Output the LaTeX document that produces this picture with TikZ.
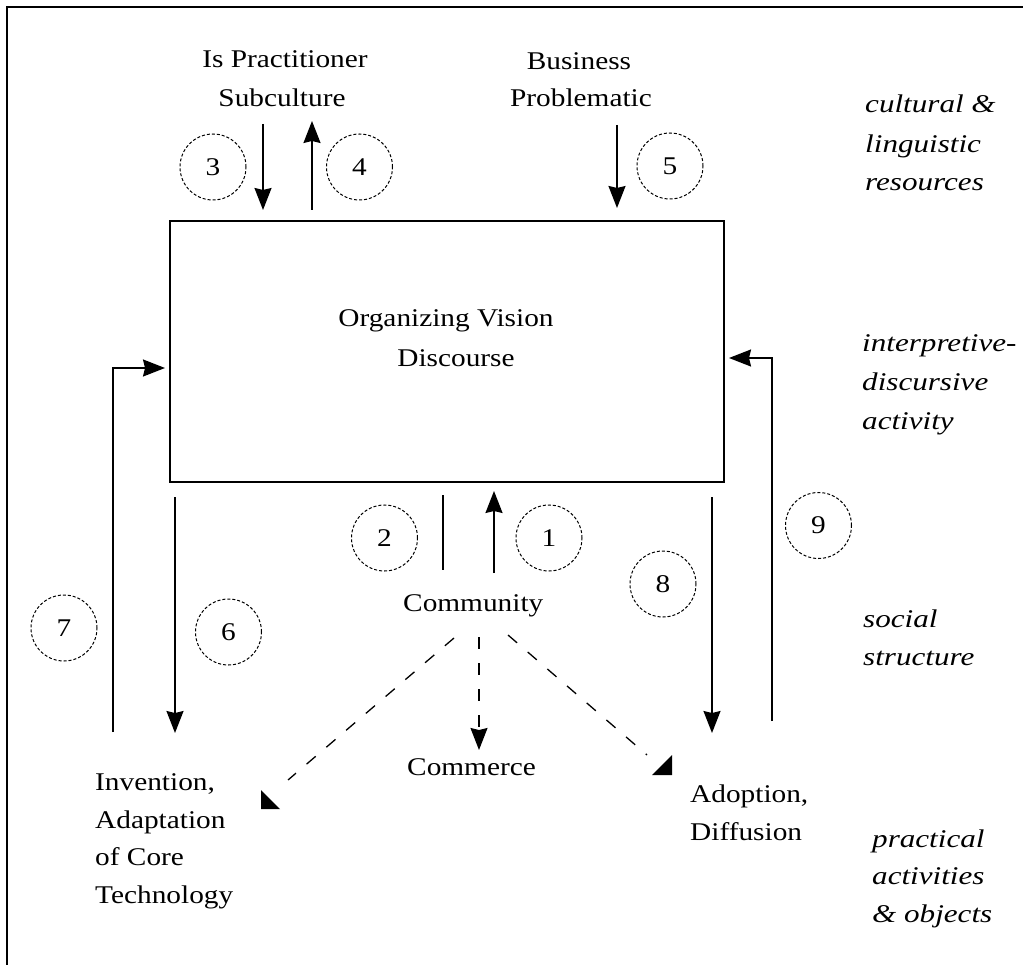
\documentclass[tikz,border=0pt]{standalone}
\usepackage{fontspec}
\setmainfont{Liberation Serif}[FakeStretch=1.15, ItalicFeatures={FakeStretch=1.22}]
\usetikzlibrary{arrows.meta}
\begin{document}
\begin{tikzpicture}[x=1pt,y=-1pt,
  lbl/.style={inner sep=0pt, anchor=base, font=\fontsize{25.5}{30}\selectfont},
  lblw/.style={inner sep=0pt, anchor=base west, font=\fontsize{25.5}{30}\selectfont},
  lvl/.style={inner sep=0pt, anchor=base west, font=\fontsize{25.5}{30}\selectfont\itshape},
  num/.style={circle, draw, dash pattern=on 3pt off 2pt, line width=1pt,
    minimum size=66pt, inner sep=0pt, font=\fontsize{25.5}{30}\selectfont},
  flow/.style={line width=1.7pt, -{Stealth[length=22pt,width=17pt,inset=2pt]}},
  bare/.style={line width=1.7pt},
  link/.style={line width=1.3pt, dash pattern=on 12pt off 14pt},
  linkhead/.style={line width=1.3pt, dash pattern=on 12pt off 14pt,
    -{Stealth[length=22pt,width=17pt,inset=2pt]}},
]
\useasboundingbox (0,0) rectangle (1023,965);
\fill[white] (0,0) rectangle (1023,965);
% frame (top and left edges)
\draw[line width=1.5pt] (7,965) -- (7,7) -- (1023,7);

% central box
\node[draw, line width=1.8pt, minimum width=554pt, minimum height=261pt,
  inner sep=0pt] (ov) at (447,351.5) {};
\node[lbl] (ovA) at (446,327) {Organizing Vision};
\node[lbl] (ovB) at (456,367) {Discourse};

% top sources
\node[lbl] (ipA) at (285,68) {Is Practitioner};
\node[lbl] (ipB) at (282,107) {Subculture};
\node[lbl] (bpA) at (579,70) {Business};
\node[lbl] (bpB) at (581,107) {Problematic};

% lower items
\node[lblw] (com) at (403,611) {Community};
\node[lblw] (cmr) at (407,775) {Commerce};
\node[lblw] (invA) at (95,790) {Invention,};
\node[lblw] (invB) at (95,828) {Adaptation};
\node[lblw] (invC) at (95,865) {of Core};
\node[lblw] (invD) at (95,903) {Technology};
\node[lblw] (adA) at (690,802) {Adoption,};
\node[lblw] (adB) at (690,840) {Diffusion};

% level labels
\node[lvl] (lv1a) at (865,113) {cultural \&};
\node[lvl] (lv1b) at (865,153) {linguistic};
\node[lvl] (lv1c) at (865,191) {resources};
\node[lvl] (lv2a) at (862,352) {interpretive-};
\node[lvl] (lv2b) at (862,391) {discursive};
\node[lvl] (lv2c) at (862,430) {activity};
\node[lvl] (lv3a) at (863,627) {social};
\node[lvl] (lv3b) at (863,665) {structure};
\node[lvl] (lv4a) at (872,847) {practical};
\node[lvl] (lv4b) at (872,884) {activities};
\node[lvl] (lv4c) at (872,922) {\& objects};

% numbered markers
\node[num] (n1) at (549,538) {1};
\node[num] (n2) at (384.5,538) {2};
\node[num] (n3) at (213,167) {3};
\node[num] (n4) at (359.5,167) {4};
\node[num] (n5) at (670,166) {5};
\node[num] (n6) at (228.5,632) {6};
\node[num] (n7) at (64,628) {7};
\node[num] (n8) at (663,584) {8};
\node[num] (n9) at (818.5,525.5) {9};

% connector end points
\coordinate (a3s) at (263,124);  \coordinate (a3e) at (263,210);
\coordinate (a4s) at (312,210);  \coordinate (a4e) at (312,121);
\coordinate (a5s) at (617,125);  \coordinate (a5e) at (617,208);
\coordinate (a2s) at (443,495);  \coordinate (a2e) at (443,570);
\coordinate (a1s) at (494,573);  \coordinate (a1e) at (494,491);
\coordinate (a6s) at (175,497);  \coordinate (a6e) at (175,733);
\coordinate (a7s) at (113,732);  \coordinate (a7e) at (165,368);
\coordinate (a8s) at (712,497);  \coordinate (a8e) at (712,733);
\coordinate (a9s) at (772,721);  \coordinate (a9e) at (729,358);

\draw[flow] (a3s) -- (a3e);
\draw[flow] (a4s) -- (a4e);
\draw[flow] (a5s) -- (a5e);
\draw[bare] (a2s) -- (a2e);
\draw[flow] (a1s) -- (a1e);
\draw[flow] (a6s) -- (a6e);
\draw[flow] (a7s) |- (a7e);
\draw[flow] (a8s) -- (a8e);
\draw[flow] (a9s) |- (a9e);

% dashed links from the community
\coordinate (dLs) at (454,638); \coordinate (dLe) at (288,780);
\coordinate (dMs) at (479,637); \coordinate (dMe) at (479,750);
\coordinate (dRs) at (508,635); \coordinate (dRe) at (647,755);
\draw[link] (dLs) -- (dLe);
\draw[linkhead] (dMs) -- (dMe);
\draw[link] (dRs) -- (dRe);
\fill (261,790) -- (261,809) -- (280,809) -- cycle;
\fill (652,775) -- (672,775) -- (672,755) -- cycle;
\end{tikzpicture}
\end{document}
